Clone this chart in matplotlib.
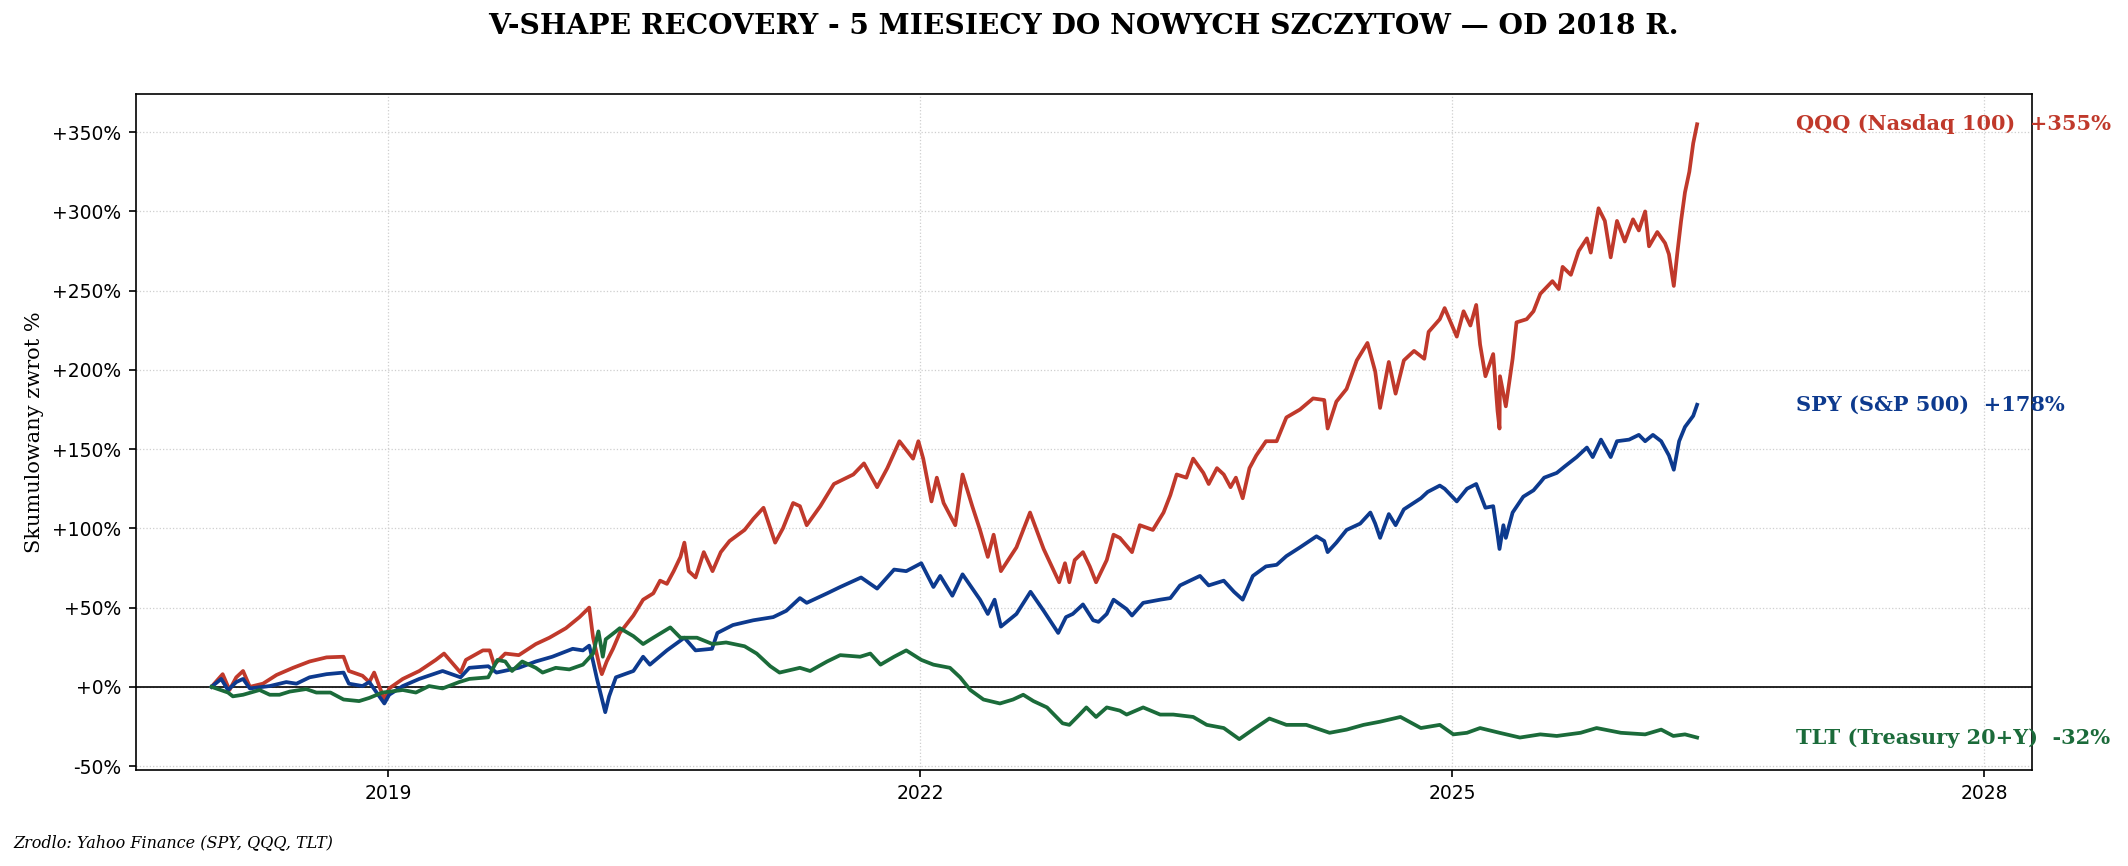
import pandas as pd
import matplotlib
matplotlib.use("Agg")
import matplotlib.pyplot as plt
import matplotlib.dates as mdates
from matplotlib.ticker import FuncFormatter

# cumulative return in % (key turning points)
qqq_dates = [
    "2018-01-02", "2018-01-25", "2018-02-08", "2018-02-22", "2018-03-08", "2018-03-22",
    "2018-04-18", "2018-05-16", "2018-06-19", "2018-07-23", "2018-08-27", "2018-10-01",
    "2018-10-12", "2018-11-09", "2018-11-23", "2018-12-03", "2018-12-24", "2019-01-03",
    "2019-01-31", "2019-03-06", "2019-04-09", "2019-04-26", "2019-05-30", "2019-06-10",
    "2019-07-15", "2019-07-29", "2019-08-07", "2019-08-30", "2019-09-27", "2019-11-01",
    "2019-11-29", "2020-01-02", "2020-01-30", "2020-02-19", "2020-02-27", "2020-03-12",
    "2020-03-16", "2020-03-26", "2020-04-08", "2020-04-22", "2020-05-20", "2020-06-09",
    "2020-06-30", "2020-07-14", "2020-07-28", "2020-08-11", "2020-08-25", "2020-09-02",
    "2020-09-11", "2020-09-25", "2020-10-12", "2020-10-30", "2020-11-16", "2020-12-04",
    "2021-01-04", "2021-01-22", "2021-02-12", "2021-03-08", "2021-03-24", "2021-04-14",
    "2021-04-28", "2021-05-12", "2021-06-09", "2021-07-07", "2021-08-16", "2021-09-07",
    "2021-10-04", "2021-10-25", "2021-11-19", "2021-12-17", "2021-12-28", "2022-01-07",
    "2022-01-24", "2022-02-04", "2022-02-18", "2022-03-14", "2022-03-29", "2022-04-18",
    "2022-05-04", "2022-05-20", "2022-06-01", "2022-06-16", "2022-07-18", "2022-08-15",
    "2022-09-12", "2022-10-14", "2022-10-26", "2022-11-04", "2022-11-15", "2022-12-02",
    "2022-12-16", "2022-12-29", "2023-01-20", "2023-02-03", "2023-02-16", "2023-03-13",
    "2023-03-29", "2023-04-25", "2023-05-17", "2023-05-31", "2023-06-13", "2023-07-03",
    "2023-07-17", "2023-08-07", "2023-08-18", "2023-09-04", "2023-09-18", "2023-10-02",
    "2023-10-13", "2023-10-27", "2023-11-10", "2023-11-24", "2023-12-14", "2024-01-05",
    "2024-01-25", "2024-02-22", "2024-03-20", "2024-04-12", "2024-04-19", "2024-05-07",
    "2024-05-28", "2024-06-18", "2024-07-10", "2024-07-26", "2024-08-05", "2024-08-23",
    "2024-09-06", "2024-09-23", "2024-10-14", "2024-11-04", "2024-11-13", "2024-12-06",
    "2024-12-16", "2025-01-10", "2025-01-24", "2025-02-07", "2025-02-19", "2025-02-27",
    "2025-03-10", "2025-03-26", "2025-04-04", "2025-04-08", "2025-04-09", "2025-04-21",
    "2025-05-05", "2025-05-13", "2025-06-03", "2025-06-17", "2025-07-01", "2025-07-26",
    "2025-08-08", "2025-08-16", "2025-09-02", "2025-09-18", "2025-10-05", "2025-10-13",
    "2025-10-29", "2025-11-11", "2025-11-23", "2025-12-06", "2025-12-22", "2026-01-08",
    "2026-01-20", "2026-02-02", "2026-02-10", "2026-02-27", "2026-03-15", "2026-03-23",
    "2026-04-02", "2026-04-09", "2026-04-17", "2026-04-25", "2026-05-04", "2026-05-12",
    "2026-05-20",
]
qqq_values = [
    0, 8, -2, 6, 10, 0,
    2, 7.5, 12, 16, 18.6, 19,
    10, 7, 3, 9, -8, -1,
    5, 10, 17, 21, 9, 17,
    23, 23, 14, 21, 20, 27,
    31, 37, 44, 50, 31, 12,
    8, 16, 24, 34, 45, 55,
    59, 67, 65, 73, 82, 91,
    73, 69, 85, 73, 85, 92,
    99, 106, 113, 91, 100, 116,
    114, 102, 114, 128, 134, 141,
    126, 138, 155, 144, 155, 144,
    117, 132, 116, 102, 134, 114,
    99, 82, 96, 73, 88, 110,
    87, 66, 78, 66, 80, 85,
    76, 66, 80, 96, 94, 85,
    102, 99, 110, 121, 134, 132,
    144, 135, 128, 138, 134, 126,
    132, 119, 138, 146, 155, 155,
    170, 175, 182, 181, 163, 180,
    188, 206, 217, 199, 176, 205,
    185, 206, 212, 207, 224, 232,
    239, 221, 237, 228, 241, 216,
    196, 210, 174, 163, 196, 177,
    207, 230, 232, 237, 248, 256,
    251, 265, 260, 275, 283, 274,
    302, 294, 271, 294, 281, 295,
    288, 300, 278, 287, 280, 273,
    253, 273, 294, 312, 325, 343,
    355,
]

spy_dates = [
    "2018-01-02", "2018-01-22", "2018-02-05", "2018-02-22", "2018-03-08", "2018-03-22",
    "2018-05-02", "2018-06-05", "2018-06-26", "2018-07-23", "2018-08-27", "2018-10-01",
    "2018-10-12", "2018-11-09", "2018-11-23", "2018-12-24", "2019-01-03", "2019-01-31",
    "2019-03-06", "2019-04-23", "2019-05-30", "2019-06-17", "2019-07-26", "2019-08-12",
    "2019-09-27", "2019-11-01", "2019-12-05", "2020-01-16", "2020-02-06", "2020-02-19",
    "2020-02-27", "2020-03-06", "2020-03-23", "2020-03-31", "2020-04-14", "2020-05-20",
    "2020-06-09", "2020-06-23", "2020-07-28", "2020-09-02", "2020-09-25", "2020-10-29",
    "2020-11-09", "2020-12-11", "2021-01-22", "2021-03-04", "2021-03-31", "2021-04-28",
    "2021-05-12", "2021-06-23", "2021-07-20", "2021-09-01", "2021-10-04", "2021-11-08",
    "2021-12-03", "2022-01-03", "2022-01-28", "2022-02-11", "2022-03-08", "2022-03-29",
    "2022-05-04", "2022-05-20", "2022-06-03", "2022-06-16", "2022-07-18", "2022-08-16",
    "2022-09-12", "2022-10-12", "2022-10-28", "2022-11-11", "2022-12-02", "2022-12-23",
    "2023-01-03", "2023-01-20", "2023-02-03", "2023-03-02", "2023-03-13", "2023-04-05",
    "2023-05-10", "2023-05-31", "2023-06-20", "2023-07-31", "2023-08-18", "2023-09-18",
    "2023-10-09", "2023-10-27", "2023-11-17", "2023-12-14", "2024-01-05", "2024-01-25",
    "2024-02-22", "2024-03-27", "2024-04-12", "2024-04-19", "2024-05-07", "2024-05-28",
    "2024-06-25", "2024-07-16", "2024-07-26", "2024-08-05", "2024-08-23", "2024-09-06",
    "2024-09-23", "2024-10-28", "2024-11-11", "2024-12-06", "2024-12-16", "2025-01-10",
    "2025-01-31", "2025-02-19", "2025-03-10", "2025-03-26", "2025-04-04", "2025-04-08",
    "2025-04-16", "2025-04-21", "2025-05-05", "2025-05-27", "2025-06-17", "2025-07-01",
    "2025-07-09", "2025-08-04", "2025-08-20", "2025-09-14", "2025-10-05", "2025-10-17",
    "2025-11-03", "2025-11-23", "2025-12-06", "2025-12-31", "2026-01-20", "2026-02-02",
    "2026-02-18", "2026-03-07", "2026-03-23", "2026-04-02", "2026-04-13", "2026-04-25",
    "2026-05-12", "2026-05-20",
]
spy_values = [
    0, 5, -2, 3, 5, -1,
    0.5, 3, 2, 6, 8, 9,
    2, 0.5, 3, -10.5, -5, 0.5,
    5, 10, 6, 12, 13, 9,
    12, 16, 19, 24, 23, 26,
    16, 5, -16, -6, 6, 10,
    19, 14, 23, 31, 23, 24,
    34, 39, 42, 44, 48, 56,
    53, 59, 63, 69, 62, 74,
    73, 78, 63, 70, 57.5, 71,
    55, 46, 55, 38, 46, 60,
    48, 34, 44, 46, 52, 42,
    41, 46, 55, 49, 45, 53,
    55, 56, 64, 70, 64, 67,
    60, 55, 70, 76, 77, 82.5,
    88, 95, 92, 85, 91, 99,
    103, 110, 103, 94, 109, 102,
    112, 119, 123, 127, 125, 117,
    125, 128, 113, 114, 96, 87,
    102, 94, 110, 120, 124, 129,
    132, 135, 139, 145, 151, 145,
    156, 145, 155, 156, 159, 155,
    159, 155, 146, 137, 155, 164,
    171, 178,
]

tlt_dates = [
    "2018-01-02", "2018-02-05", "2018-02-15", "2018-03-08", "2018-04-11", "2018-05-02",
    "2018-05-22", "2018-06-12", "2018-07-16", "2018-08-06", "2018-09-04", "2018-10-01",
    "2018-11-02", "2018-11-23", "2018-12-20", "2019-01-31", "2019-02-27", "2019-03-26",
    "2019-04-23", "2019-05-27", "2019-06-17", "2019-07-26", "2019-08-14", "2019-08-30",
    "2019-09-13", "2019-10-04", "2019-11-01", "2019-11-15", "2019-12-12", "2020-01-09",
    "2020-02-06", "2020-02-27", "2020-03-09", "2020-03-18", "2020-03-24", "2020-04-14",
    "2020-04-22", "2020-05-20", "2020-06-09", "2020-06-30", "2020-08-04", "2020-08-25",
    "2020-09-28", "2020-10-30", "2020-11-27", "2021-01-04", "2021-01-29", "2021-02-26",
    "2021-03-17", "2021-04-28", "2021-05-19", "2021-06-23", "2021-07-20", "2021-08-30",
    "2021-09-20", "2021-10-11", "2021-11-08", "2021-12-03", "2022-01-03", "2022-01-28",
    "2022-03-03", "2022-03-24", "2022-04-14", "2022-05-11", "2022-06-14", "2022-07-11",
    "2022-08-01", "2022-08-22", "2022-09-19", "2022-10-21", "2022-11-04", "2022-11-25",
    "2022-12-09", "2022-12-29", "2023-01-20", "2023-02-16", "2023-03-02", "2023-04-05",
    "2023-05-10", "2023-06-06", "2023-07-17", "2023-08-14", "2023-09-18", "2023-10-20",
    "2023-11-17", "2023-12-21", "2024-01-25", "2024-03-06", "2024-04-23", "2024-05-28",
    "2024-07-02", "2024-08-05", "2024-09-16", "2024-10-28", "2024-12-06", "2025-01-03",
    "2025-01-31", "2025-02-27", "2025-04-08", "2025-05-20", "2025-07-01", "2025-08-04",
    "2025-09-22", "2025-10-25", "2025-12-14", "2026-02-02", "2026-03-07", "2026-04-01",
    "2026-04-25", "2026-05-20",
]
tlt_values = [
    0, -3.6, -6, -5, -2, -5,
    -5, -3, -1.4, -3.6, -3.6, -8,
    -9, -7, -3.6, -2, -3.6, 0.5,
    -1, 3, 5, 6, 17, 16,
    10, 16, 12, 9, 12, 11,
    14, 21, 35, 19, 30, 35,
    37, 32, 27, 31, 37.5, 31,
    31, 27, 28, 25.6, 21, 13,
    9, 12, 10, 16, 20, 19,
    21, 14, 19, 23, 17, 14,
    12, 6, -2, -8, -10.5, -8,
    -5, -9, -13, -23, -24, -17.5,
    -13, -19, -13, -15, -17.5, -13,
    -17.5, -17.5, -19, -24, -26, -33,
    -27, -20, -24, -24, -29, -27,
    -24, -22, -19, -26, -24, -30,
    -29, -26, -29, -32, -30, -31,
    -29, -26, -29, -30, -27, -31,
    -30, -32,
]

series = [
    ("QQQ (Nasdaq 100)", qqq_dates, qqq_values, "#c0392b"),
    ("SPY (S&P 500)", spy_dates, spy_values, "#0d3a8e"),
    ("TLT (Treasury 20+Y)", tlt_dates, tlt_values, "#1b6b3a"),
]

fig = plt.figure(figsize=(2128 / 150, 866 / 150), dpi=150)
ax = fig.add_axes([0.0638, 0.111, 0.8909, 0.781])

for name, d, v, c in series:
    x = pd.to_datetime(d)
    ax.plot(x, v, color=c, lw=1.8, zorder=3)
    ax.text(pd.Timestamp("2026-12-10"), v[-1], f"{name}  {v[-1]:+.0f}%",
            color=c, fontsize=10, fontweight="bold", family="serif", va="center")

ax.axhline(0, color="black", lw=0.8, zorder=2)
ax.set_xlim(pd.Timestamp("2017-07-30"), pd.Timestamp("2028-04-08"))
ax.xaxis.set_major_locator(mdates.YearLocator(3))
ax.xaxis.set_major_formatter(mdates.DateFormatter("%Y"))
ax.yaxis.set_major_formatter(FuncFormatter(lambda y, _: f"{y:+.0f}%"))
ax.set_yticks(range(-50, 351, 50))
ax.tick_params(labelsize=9)
ax.grid(True, color="#cfcfcf", ls=":", lw=0.6)
ax.set_ylabel("Skumulowany zwrot %", family="serif", fontsize=10)

fig.text(0.509, 0.969, "V-SHAPE RECOVERY - 5 MIESIECY DO NOWYCH SZCZYTOW \u2014 OD 2018 R.",
         ha="center", va="center", family="serif", fontweight="bold", fontsize=13.5)
fig.text(0.0064, 0.027, "Zrodlo: Yahoo Finance (SPY, QQQ, TLT)", family="serif",
         style="italic", fontsize=7.7, va="center")

fig.savefig("out.png", dpi=150)
